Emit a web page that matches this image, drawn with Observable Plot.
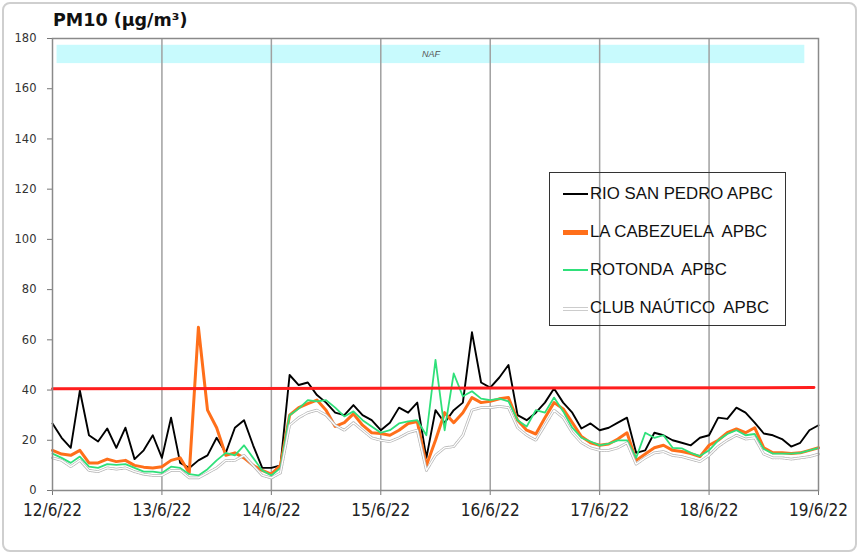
<!DOCTYPE html>
<html><head><meta charset="utf-8">
<script src="https://cdn.jsdelivr.net/npm/d3@7"></script>
<script src="https://cdn.jsdelivr.net/npm/@observablehq/plot@0.6"></script>
<style>
body{margin:0;background:#fff;}
#wrap{position:relative;width:859px;height:554px;overflow:hidden;background:#fff;}
#frame{position:absolute;left:2px;top:2px;border:2px solid #cfcfcf;border-radius:8px;box-sizing:border-box;width:855px;height:550px;}
#title{position:absolute;left:53px;top:10px;font:bold 17.5px "DejaVu Sans",Verdana,sans-serif;color:#111;white-space:nowrap;}
#chart{position:absolute;left:0;top:0;}
#legend{position:absolute;left:549px;top:172px;width:237px;height:154px;border:1.5px solid #333;box-sizing:border-box;}
.row{position:absolute;left:0;height:20px;width:100%;}
.sw{position:absolute;left:13px;width:25px;}
.lab{position:absolute;left:40px;top:0;line-height:20px;font:16.8px "Liberation Sans",Arial,sans-serif;color:#111;white-space:pre;}
.pm g[aria-label="x-axis tick label"]{font-family:"Liberation Sans Narrow","Arial Narrow","DejaVu Sans Condensed",sans-serif;font-size:17px;fill:#222;}
.pm g[aria-label="y-axis tick label"]{font-family:"DejaVu Sans",Verdana,sans-serif;font-size:11.5px;fill:#333;}
</style>
</head><body>
<div id="wrap">
  <div id="chart"></div>
  <div id="title">PM10 (µg/m³)</div>
  <div id="legend"></div>
  <div id="frame"></div>
</div>
<script>
// ---- data (2-hourly readings, 12/6/22 00h .. 19/6/22 00h) ----
const SERIES_NAMES = ["RIO SAN PEDRO APBC", "LA CABEZUELA  APBC", "ROTONDA  APBC", "CLUB NAÚTICO  APBC"];
const RIO = [26.7,21,17,39.8,22,19.5,24.7,17,25,12.5,16,22,13,29,11,9,12,14,21,15,25,28,18,9,9,10,46,42,43,38,35,31,30,34,30,28,24,27,33,31,35,13,32,27,32,35,63,43,41,45,50,30,28,31,35,40.6,35,31,24.7,26.7,24,25,27,29,15,16,23,22,20,19,18,21,22,29,28.5,33,31,27,22.7,22,20.5,17.5,19,24,26];
const CABEZUELA = [16,14.5,14,16,11,11,12.5,11.5,12,10,9.3,9,9.5,12,13,7,65,32,25,14,15,13,10,8,6.5,10,30,33,34.6,36,32,25.5,27,30.5,26,23,22.7,22,24,26.7,27.5,10,20,31,27,31,37,35,35.5,36.5,37,28,24,22.5,29,35,32.5,27,21.5,19,18,18.5,20.5,23,12,14.5,17,18,16,15.5,14.7,13.5,18,20,23,24.5,23,25,17,15,15,14.7,15,16,17];
const ROTONDA = [14.7,13,11,13.5,9.5,9,10.5,10.2,10.5,9,7.5,7.5,7,9.5,9,6.5,6,8.5,12,15,14,18,13,8,6,9,30,32.6,36,35.5,36,33,29.5,31.5,28,25.5,23,24,26.7,27.5,28,22,52,24,46.6,37.5,39.5,36.6,36,36.6,35.5,28,25.5,32,31,37,31.5,25,21,19.5,18,18.7,20,20,13,23,21,22,17,16.8,15,13.7,16,20,22.5,24,22,22.5,16.5,14.7,14.7,14.7,15,16,17];
const CLUB = [13,12,9.5,12,8,7.5,9,8.5,9,7.5,6.5,6,6,8,8,5,5,7,9,12,12,14,10,6,5,7,26,29,31,32,30,26,24,27,24,21,20,19.5,21,23,24,8,14,17,17.5,22,32,33,33,33.5,33,25,22,20,26,32,29,23,19,17,16,16,17,19,10.5,13,15,15.5,14,13.5,12.5,11.5,14,17.5,20,22,20.5,21,14.5,13,13,12.5,13,13.5,14.5];
const STEP_HOURS = 2;
const THRESH_HOURS = [0, 167];
const THRESH_VALUES = [40.5, 41];
const NAF_HOURS = [1, 165];
const NAF_VALUES = [170, 177.3];
const NAF_LABEL = "NAF";
const X_LABELS = ["12/6/22","13/6/22","14/6/22","15/6/22","16/6/22","17/6/22","18/6/22","19/6/22"];
const Y_TICKS = [0,20,40,60,80,100,120,140,160,180];

const COLORS = ["#000000", "#ff6f1a", "#2fe07a", "#ffffff"];

// ---- build ----
const T0 = Date.UTC(2022, 5, 12);
const H = 3600e3;
const at = h => new Date(T0 + h * H);
const rows = vals => vals.map((v, i) => ({t: at(i * STEP_HOURS), v}));
const dayTicks = X_LABELS.map((_, i) => at(i * 24));
const labelOf = new Map(dayTicks.map((d, i) => [+d, X_LABELS[i]]));
const thr = THRESH_HOURS.map((h, i) => ({t: at(h), v: THRESH_VALUES[i]}));
const naf = [{a: at(NAF_HOURS[0]), b: at(NAF_HOURS[1]), m: at((NAF_HOURS[0] + NAF_HOURS[1]) / 2),
  y1: NAF_VALUES[0], y2: NAF_VALUES[1], ym: (NAF_VALUES[0] + NAF_VALUES[1]) / 2, label: NAF_LABEL}];

const chart = Plot.plot({
  width: 859, height: 554,
  marginLeft: 52, marginRight: 41, marginTop: 38, marginBottom: 64,
  className: "pm",
  style: {background: "transparent"},
  x: {type: "utc", domain: [at(0), at(168)]},
  y: {domain: [0, 180]},
  marks: [
    Plot.rect(naf, {x1: "a", x2: "b", y1: "y1", y2: "y2", fill: "#c8fafd"}),
    Plot.text(naf, {x: "m", y: "ym", text: "label", fontSize: 9, fontStyle: "italic", fill: "#555", fontFamily: "Liberation Sans, Arial, sans-serif"}),
    Plot.ruleX(dayTicks.slice(1, -1), {stroke: "#a0a0a0", strokeWidth: 1.5}),
    Plot.axisY({ticks: Y_TICKS, tickSize: 5, tickPadding: 11, stroke: "#777"}),
    Plot.axisX({ticks: dayTicks, tickFormat: d => labelOf.get(+d), tickSize: 5, tickPadding: 8, stroke: "#777"}),
    Plot.line(rows(RIO), {x: "t", y: "v", stroke: COLORS[0], strokeWidth: 1.9}),
    Plot.line(rows(CABEZUELA), {x: "t", y: "v", stroke: COLORS[1], strokeWidth: 3}),
    Plot.line(rows(ROTONDA), {x: "t", y: "v", stroke: COLORS[2], strokeWidth: 1.8}),
    Plot.line(rows(CLUB), {x: "t", y: "v", stroke: "#b5b5b5", strokeWidth: 2.8, strokeDasharray: "1.5,1.2"}),
    Plot.line(rows(CLUB), {x: "t", y: "v", stroke: COLORS[3], strokeWidth: 1.3}),
    Plot.line(thr, {x: "t", y: "v", stroke: "#ff1e1e", strokeWidth: 3}),
    Plot.frame({stroke: "#8a8a8a", strokeWidth: 1.5})
  ]
});
document.getElementById("chart").appendChild(chart);

// ---- legend ----
const legend = document.getElementById("legend");
const swatch = [
  "height:2px;background:#000;",
  "height:5px;background:#ff6f1a;",
  "height:2px;background:#2fe07a;",
  "height:2px;background:#fff;border-top:1px solid #ccc;border-bottom:1px solid #ccc;"
];
const rowTops = [11, 49, 87, 125];
SERIES_NAMES.forEach((name, i) => {
  const r = document.createElement("div");
  r.className = "row";
  r.style.top = rowTops[i] + "px";
  const s = document.createElement("div");
  s.className = "sw";
  s.setAttribute("style", swatch[i]);
  s.style.top = (10 - parseFloat(swatch[i].match(/height:(\d+)/)[1]) / 2) + "px";
  const l = document.createElement("div");
  l.className = "lab";
  l.textContent = name;
  r.appendChild(s); r.appendChild(l);
  legend.appendChild(r);
});
</script>
</body></html>
